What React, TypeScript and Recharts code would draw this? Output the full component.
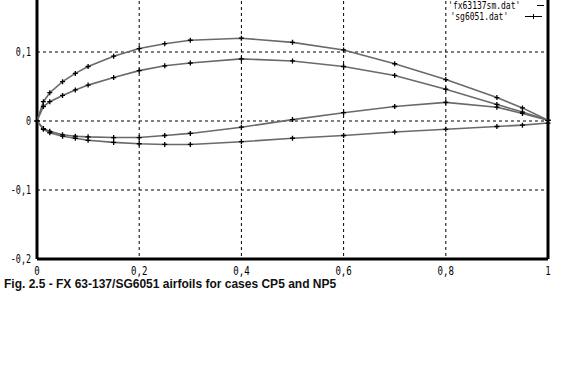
import React from "react";
import {
  ScatterChart,
  Scatter,
  XAxis,
  YAxis,
  CartesianGrid,
  ReferenceLine,
} from "recharts";

// chord stations shared by both airfoils
const stations = [0, 0.0125, 0.025, 0.05, 0.075, 0.1, 0.15, 0.2, 0.25, 0.3, 0.4, 0.5, 0.6, 0.7, 0.8, 0.9, 0.95, 1.0];

// FX 63-137 (fx63137sm.dat)
const fxUpper = [0, 0.028, 0.041, 0.057, 0.069, 0.079, 0.094, 0.105, 0.112, 0.117, 0.12, 0.114, 0.103, 0.083, 0.06, 0.034, 0.019, 0.001];
const fxLower = [0, -0.011, -0.015, -0.02, -0.022, -0.023, -0.024, -0.024, -0.021, -0.018, -0.009, 0.002, 0.012, 0.021, 0.027, 0.02, 0.011, 0.001];

// SG6051 (sg6051.dat)
const sgUpper = [0, 0.021, 0.028, 0.037, 0.045, 0.052, 0.063, 0.073, 0.08, 0.084, 0.09, 0.087, 0.079, 0.066, 0.046, 0.024, 0.013, 0.001];
const sgLower = [0, -0.012, -0.017, -0.022, -0.025, -0.028, -0.031, -0.033, -0.034, -0.034, -0.03, -0.025, -0.021, -0.016, -0.012, -0.008, -0.006, -0.003];

const xTicks = [0, 0.2, 0.4, 0.6, 0.8, 1];
const yTicks = [-0.2, -0.1, 0, 0.1];

const seriesNames = ["'fx63137sm.dat'", "'sg6051.dat'"];
const caption = "Fig. 2.5 - FX 63-137/SG6051 airfoils for cases CP5 and NP5";

// trailing edge -> upper -> leading edge -> lower -> trailing edge
const outline = (upper: number[], lower: number[]) => {
  const top = stations.map((x, i) => ({ x, y: upper[i] })).reverse();
  const bottom = stations.map((x, i) => ({ x, y: lower[i] })).slice(1);
  return [...top, ...bottom];
};

const fxData = outline(fxUpper, fxLower);
const sgData = outline(sgUpper, sgLower);

const comma = (v: number) => String(v).replace(".", ",");

const monoFont = "'DejaVu Sans Mono', monospace";

const Plus = (props: any) => {
  const { cx, cy } = props;
  if (cx == null || cy == null) return null;
  return (
    <path
      d={`M${cx - 2.5},${cy}H${cx + 2.5}M${cx},${cy - 2.5}V${cy + 2.5}`}
      stroke="#000"
      strokeWidth={1.3}
    />
  );
};

// narrow, tall tick labels like the old gnuplot bitmap font
const XTick = (props: any) => {
  const { x, y, payload } = props;
  return (
    <text
      transform={`translate(${x},${y + 16}) scale(0.7,1)`}
      textAnchor="middle"
      fontFamily={monoFont}
      fontSize={13}
      fill="#000"
    >
      {comma(payload.value)}
    </text>
  );
};

const YTick = (props: any) => {
  const { x, y, payload } = props;
  return (
    <text
      transform={`translate(${x - 2},${y + 4}) scale(0.7,1)`}
      textAnchor="end"
      fontFamily={monoFont}
      fontSize={12}
      fill="#000"
    >
      {comma(payload.value)}
    </text>
  );
};

// gnuplot style key, top right, outside the svg so it takes no room from the plot
const GnuLegend = () => (
  <div
    style={{
      position: "absolute",
      top: 0,
      left: 430,
      width: 114,
      fontFamily: monoFont,
      fontSize: 10,
      color: "#000",
    }}
  >
    {seriesNames.map((name) => (
      <div
        key={name}
        style={{ display: "flex", alignItems: "center", height: 11, justifyContent: "flex-end" }}
      >
        <span style={{ display: "inline-block", transform: "scaleX(0.8)", transformOrigin: "right center", whiteSpace: "nowrap" }}>
          {name}
        </span>
        <svg width={28} height={11} style={{ marginLeft: 8 }}>
          <line x1={9} x2={26} y1={5.5} y2={5.5} stroke="#000" strokeWidth={1} />
          <path d="M17.5,3V8" stroke="#000" strokeWidth={1} />
        </svg>
      </div>
    ))}
  </div>
);

const App = () => {
  return (
    <div
      style={{
        position: "absolute",
        left: 0,
        top: 0,
        width: 576,
        height: 384,
        overflow: "hidden",
        background: "#fff",
      }}
    >
      <div style={{ position: "absolute", left: 0, top: -17 }}>
        <ScatterChart width={576} height={301} margin={{ top: 0, right: 28, bottom: 0, left: 0 }}>
          <CartesianGrid stroke="#000" strokeDasharray="3 3" strokeWidth={1} />
          <XAxis
            type="number"
            dataKey="x"
            domain={[0, 1]}
            ticks={xTicks}
            axisLine={{ stroke: "#000", strokeWidth: 3 }}
            tickLine={false}
            tickSize={0}
            tickMargin={0}
            height={25}
            tick={<XTick />}
          />
          <YAxis
            type="number"
            dataKey="y"
            domain={[-0.2, 0.2]}
            ticks={yTicks}
            axisLine={{ stroke: "#000", strokeWidth: 3 }}
            tickLine={false}
            tickSize={2}
            tickMargin={2}
            width={37}
            tick={<YTick />}
          />
          <ReferenceLine x={1} stroke="#000" strokeWidth={3} />
          <Scatter
            name={seriesNames[0]}
            data={fxData}
            line={{ stroke: "#6a6a6a", strokeWidth: 1.6 }}
            lineType="joint"
            shape={<Plus />}
            isAnimationActive={false}
          />
          <Scatter
            name={seriesNames[1]}
            data={sgData}
            line={{ stroke: "#6a6a6a", strokeWidth: 1.6 }}
            lineType="joint"
            shape={<Plus />}
            isAnimationActive={false}
          />
        </ScatterChart>
      </div>
      <GnuLegend />
      <div
        style={{
          position: "absolute",
          left: 4,
          top: 278,
          fontFamily: "'Liberation Sans', Arial, sans-serif",
          fontWeight: "bold",
          fontSize: 12,
          lineHeight: "13px",
          color: "#111",
          whiteSpace: "nowrap",
        }}
      >
        {caption}
      </div>
    </div>
  );
};

export default App;
